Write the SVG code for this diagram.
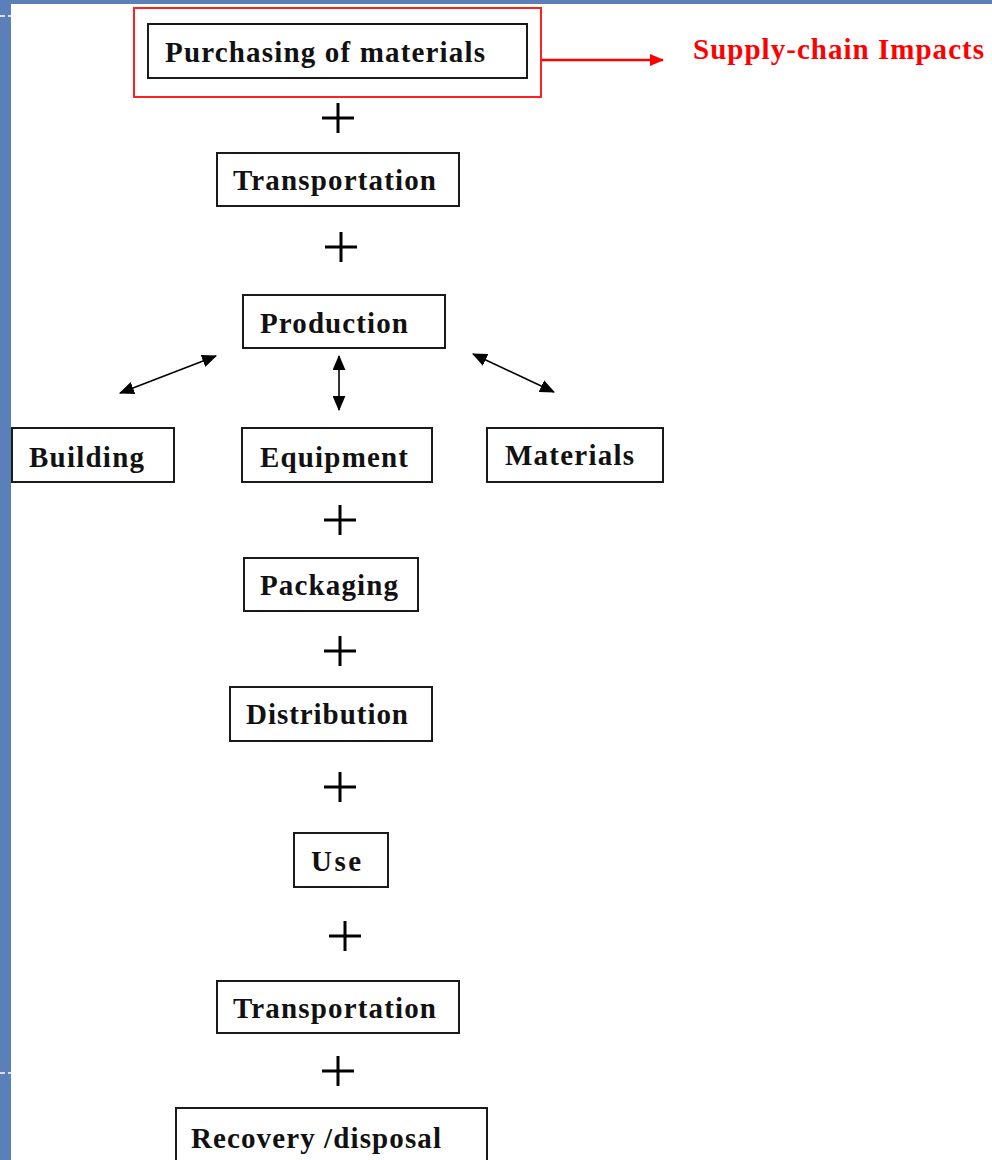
<svg xmlns="http://www.w3.org/2000/svg" width="992" height="1160" viewBox="0 0 992 1160">
<style>
.box{fill:#fff;stroke:#1a1a1a;stroke-width:2}
.lbl{font-family:"Liberation Serif","Times New Roman",serif;font-weight:bold;font-size:29px;fill:#111}
.red{fill:#ff0000}
.plus{stroke:#000;stroke-width:3;fill:none}
.conn{stroke:#000;stroke-width:1.6;fill:none}
</style>
<defs>
<marker id="ah" viewBox="0 0 14 12" refX="13" refY="6" markerWidth="15" markerHeight="13" markerUnits="userSpaceOnUse" orient="auto-start-reverse">
<path d="M0,0 L14,6 L0,12 z" fill="#000"/>
</marker>
<marker id="ahr" viewBox="0 0 14 12" refX="13" refY="6" markerWidth="14" markerHeight="12" markerUnits="userSpaceOnUse" orient="auto">
<path d="M0,0 L14,6 L0,12 z" fill="#ff0000"/>
</marker>
</defs>
<rect x="0" y="0" width="992" height="1160" fill="#fff"/>
<g id="frame">
<rect x="0" y="0" width="992" height="4" fill="#5b80b9"/>
<rect x="0" y="0" width="11" height="1160" fill="#5b80b9"/>
<line x1="0" y1="16" x2="11" y2="16" stroke="#fff" stroke-width="1.5" stroke-dasharray="5,3"/>
<line x1="0" y1="1073" x2="11" y2="1073" stroke="#fff" stroke-width="1.5" stroke-dasharray="5,3"/>
</g>
<g id="connectors">
<line x1="541" y1="60" x2="663" y2="60" stroke="#ff0000" stroke-width="2.5" marker-end="url(#ahr)"/>
<line class="conn" x1="216" y1="356" x2="120" y2="393" marker-start="url(#ah)" marker-end="url(#ah)"/>
<line class="conn" x1="339" y1="356" x2="339" y2="410" marker-start="url(#ah)" marker-end="url(#ah)"/>
<line class="conn" x1="473" y1="354" x2="554" y2="392" marker-start="url(#ah)" marker-end="url(#ah)"/>
</g>
<g id="plus-signs">
<path class="plus" d="M322,118 h32 M338,103 v30"/>
<path class="plus" d="M325,247 h32 M341,232 v30"/>
<path class="plus" d="M324,520 h32 M340,505 v30"/>
<path class="plus" d="M324,651 h32 M340,636 v30"/>
<path class="plus" d="M324,787 h32 M340,772 v30"/>
<path class="plus" d="M329,936 h32 M345,921 v30"/>
<path class="plus" d="M322,1071 h32 M338,1056 v30"/>
</g>
<g id="supply-chain-group">
<rect x="134" y="8" width="407" height="89" fill="none" stroke="#ff2020" stroke-width="2"/>
</g>
<g id="purchasing">
<rect class="box" x="148" y="24" width="379" height="54"/>
<text class="lbl" x="165" y="62" textLength="320" lengthAdjust="spacing">Purchasing of materials</text>
</g>
<g id="supply-chain-impacts">
<text class="lbl red" x="693" y="59" font-size="27" textLength="291" lengthAdjust="spacing">Supply-chain Impacts</text>
</g>
<g id="transportation1">
<rect class="box" x="217" y="153" width="242" height="53"/>
<text class="lbl" x="233" y="190" textLength="203" lengthAdjust="spacing">Transportation</text>
</g>
<g id="production">
<rect class="box" x="243" y="295" width="202" height="53"/>
<text class="lbl" x="260" y="333" textLength="148" lengthAdjust="spacing">Production</text>
</g>
<g id="building">
<rect class="box" x="12" y="428" width="162" height="54"/>
<text class="lbl" x="29" y="467" textLength="115" lengthAdjust="spacing">Building</text>
</g>
<g id="equipment">
<rect class="box" x="242" y="428" width="190" height="54"/>
<text class="lbl" x="260" y="467" textLength="148" lengthAdjust="spacing">Equipment</text>
</g>
<g id="materials">
<rect class="box" x="487" y="428" width="176" height="54"/>
<text class="lbl" x="505" y="465" textLength="129" lengthAdjust="spacing">Materials</text>
</g>
<g id="packaging">
<rect class="box" x="244" y="558" width="174" height="53"/>
<text class="lbl" x="260" y="595" textLength="138" lengthAdjust="spacing">Packaging</text>
</g>
<g id="distribution">
<rect class="box" x="230" y="687" width="202" height="54"/>
<text class="lbl" x="246" y="724" textLength="162" lengthAdjust="spacing">Distribution</text>
</g>
<g id="use">
<rect class="box" x="294" y="833" width="94" height="54"/>
<text class="lbl" x="311" y="871" textLength="50" lengthAdjust="spacing">Use</text>
</g>
<g id="transportation2">
<rect class="box" x="217" y="981" width="242" height="52"/>
<text class="lbl" x="233" y="1018" textLength="203" lengthAdjust="spacing">Transportation</text>
</g>
<g id="recovery">
<rect class="box" x="176" y="1108" width="311" height="60"/>
<text class="lbl" x="191" y="1148" textLength="250" lengthAdjust="spacing">Recovery /disposal</text>
</g>
</svg>
